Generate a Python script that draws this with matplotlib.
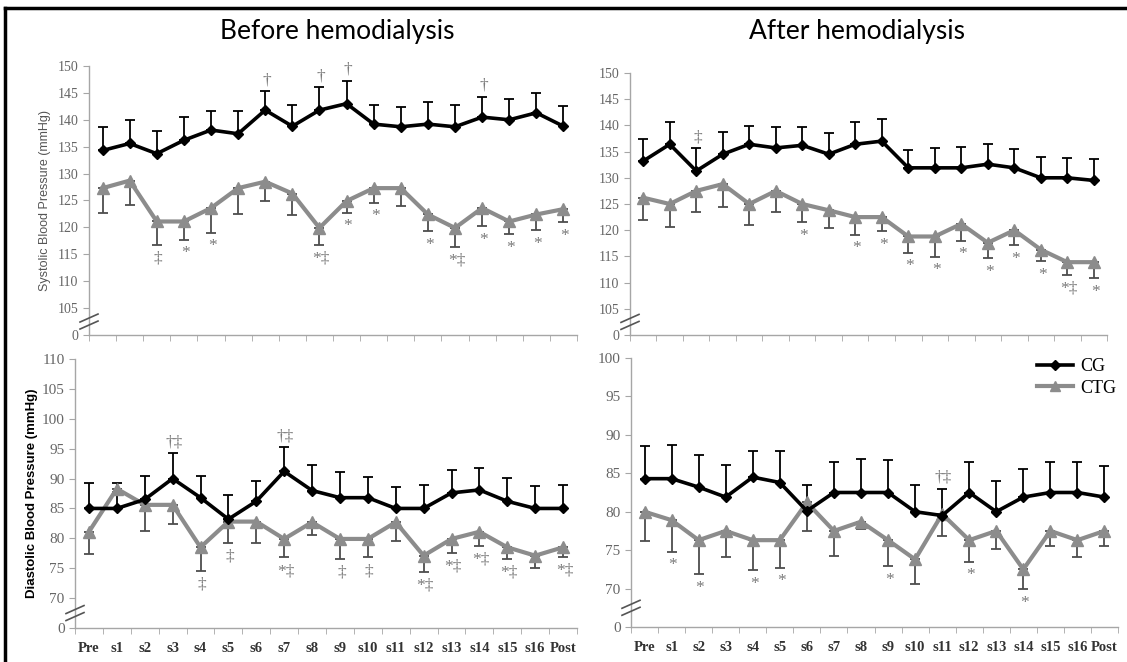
import matplotlib
matplotlib.use('Agg')
import matplotlib.pyplot as plt
from matplotlib.lines import Line2D
import numpy as np

plt.rcParams['font.serif'] = ['Liberation Serif', 'DejaVu Serif']

# --- Data ---
sessions = ['Pre', 's1', 's2', 's3', 's4', 's5', 's6', 's7', 's8', 's9', 's10',
            's11', 's12', 's13', 's14', 's15', 's16', 'Post']

# Systolic, before hemodialysis
sbp_before_cg = [134.3, 135.6, 133.7, 136.2, 138.1, 137.4, 141.8, 138.8, 141.8, 143.0,
                 139.2, 138.7, 139.2, 138.7, 140.5, 140.0, 141.3, 138.8]
sbp_before_cg_sd = [4.3, 4.3, 4.3, 4.3, 3.6, 4.2, 3.5, 3.9, 4.3, 4.3,
                    3.5, 3.7, 4.1, 4.0, 3.8, 3.9, 3.6, 3.8]
sbp_before_ctg = [127.3, 128.7, 121.1, 121.1, 123.6, 127.3, 128.5, 126.3, 119.9, 124.9,
                  127.3, 127.3, 122.4, 119.9, 123.6, 121.1, 122.4, 123.4]
sbp_before_ctg_sd = [4.7, 4.6, 4.3, 3.4, 4.6, 4.9, 3.6, 4.0, 3.2, 2.2,
                     2.7, 3.4, 3.1, 3.5, 3.4, 2.4, 2.9, 2.4]

# Systolic, after hemodialysis
sbp_after_cg = [133.2, 136.4, 131.3, 134.5, 136.4, 135.7, 136.2, 134.5, 136.4, 137.0,
                131.9, 131.9, 131.9, 132.6, 131.9, 130.0, 130.0, 129.5]
sbp_after_cg_sd = [4.2, 4.2, 4.3, 4.2, 3.5, 3.9, 3.4, 4.0, 4.2, 4.2,
                   3.4, 3.7, 4.0, 3.9, 3.6, 4.0, 3.8, 4.1]
sbp_after_ctg = [126.2, 125.0, 127.5, 128.8, 125.0, 127.5, 125.0, 123.8, 122.5, 122.5,
                 118.8, 118.8, 121.2, 117.6, 120.0, 116.3, 113.9, 113.9]
sbp_after_ctg_sd = [4.2, 4.4, 4.1, 4.4, 4.1, 4.1, 3.5, 3.4, 3.4, 2.7,
                    3.1, 3.9, 3.2, 3.0, 2.9, 2.2, 2.4, 3.1]

# Diastolic, before hemodialysis
dbp_before_cg = [85.0, 85.0, 86.5, 90.0, 86.8, 83.2, 86.2, 91.2, 88.0, 86.8,
                 86.8, 85.0, 85.0, 87.6, 88.1, 86.2, 85.0, 85.0]
dbp_before_cg_sd = [4.2, 4.2, 4.0, 4.2, 3.6, 4.0, 3.4, 4.1, 4.3, 4.3,
                    3.4, 3.6, 3.9, 3.8, 3.6, 3.9, 3.7, 4.0]
dbp_before_ctg = [81.1, 88.3, 85.6, 85.6, 78.5, 82.8, 82.8, 79.9, 82.7, 79.9,
                  79.9, 82.7, 77.1, 79.9, 81.1, 78.5, 77.1, 78.5]
dbp_before_ctg_sd = [3.7, 0.6, 4.3, 3.2, 3.9, 3.5, 3.6, 3.1, 2.1, 3.4,
                     3.1, 3.1, 2.8, 2.3, 2.3, 1.9, 2.1, 1.6]

# Diastolic, after hemodialysis
dbp_after_cg = [84.3, 84.3, 83.2, 81.9, 84.5, 83.8, 80.1, 82.5, 82.5, 82.5,
                80.0, 79.5, 82.5, 80.0, 81.9, 82.5, 82.5, 81.9]
dbp_after_cg_sd = [4.3, 4.4, 4.2, 4.2, 3.4, 4.1, 3.4, 4.0, 4.3, 4.2,
                   3.5, 3.5, 4.0, 4.0, 3.6, 4.0, 4.0, 4.1]
dbp_after_ctg = [80.0, 78.9, 76.3, 77.5, 76.3, 76.3, 81.2, 77.5, 78.7, 76.3,
                 73.8, 79.7, 76.3, 77.5, 72.5, 77.5, 76.3, 77.5]
dbp_after_ctg_sd = [3.8, 4.1, 4.4, 3.4, 3.9, 3.6, 3.7, 3.2, 1.0, 3.4,
                    3.2, 2.9, 2.8, 2.3, 2.6, 2.0, 2.2, 2.0]

# significance marks ('' = none); above CG / below CTG
sbp_before_marks_cg = ['', '', '', '', '', '', '†', '', '†', '†', '', '', '', '', '†', '', '', '']
sbp_before_marks_ctg = ['', '', '‡', '*', '*', '', '', '', '*‡', '*', '*', '', '*', '*‡', '*', '*', '*', '*']
sbp_after_marks_cg = ['', '', '‡', '', '', '', '', '', '', '', '', '', '', '', '', '', '', '']
sbp_after_marks_ctg = ['', '', '', '', '', '', '*', '', '*', '*', '*', '*', '*', '*', '*', '*', '*‡', '*']
dbp_before_marks_cg = ['', '', '', '†‡', '', '', '', '†‡', '', '', '', '', '', '', '', '', '', '']
dbp_before_marks_ctg = ['', '', '', '', '‡', '‡', '', '*‡', '', '‡', '‡', '', '*‡', '*‡', '*‡', '*‡', '', '*‡']
dbp_after_marks_cg = ['', '', '', '', '', '', '', '', '', '', '', '†‡', '', '', '', '', '', '']
dbp_after_marks_ctg = ['', '*', '*', '', '*', '*', '', '', '', '*', '', '', '*', '', '*', '', '', '']

# --- Figure ---
W, H = 1127, 662
fig = plt.figure(figsize=(W / 100, H / 100), dpi=100)
fig.patch.set_facecolor('white')

tick_gray = '#666666'
axis_gray = '#a6a6a6'
mark_gray = '#7a7a7a'
ctg_gray = '#8c8c8c'


def rect(l, r, t, b):
    return [l / W, 1 - b / H, (r - l) / W, (b - t) / H]


def draw_panel(ax, cg, cg_sd, ctg, ctg_sd, marks_cg, marks_ctg, yticks, ylo, yhi,
               tick_size, show_x):
    x = np.arange(len(sessions))
    zeros = np.zeros(len(sessions))
    # error bars (CG up, CTG down)
    ax.errorbar(x, cg, yerr=[zeros, cg_sd], fmt='none', ecolor='black',
                elinewidth=1.3, capsize=3.5, capthick=1.3, zorder=2)
    ax.errorbar(x, ctg, yerr=[ctg_sd, zeros], fmt='none', ecolor='#4d4d4d',
                elinewidth=1.3, capsize=3.5, capthick=1.3, zorder=2)
    ax.plot(x, ctg, color=ctg_gray, lw=3, marker='^', ms=8, zorder=3)
    ax.plot(x, cg, color='black', lw=2.6, marker='D', ms=5.5, zorder=4)

    for i in range(len(sessions)):
        if marks_cg[i]:
            ax.annotate(marks_cg[i], (x[i], cg[i] + cg_sd[i]), xytext=(1, 2),
                        textcoords='offset points', ha='center', va='bottom',
                        fontsize=12.5, color=mark_gray, family='serif')
        if marks_ctg[i]:
            ax.annotate(marks_ctg[i], (x[i], ctg[i] - ctg_sd[i]), xytext=(1, -4),
                        textcoords='offset points', ha='center', va='top',
                        fontsize=12.5, color=mark_gray, family='serif')

    ax.set_xlim(-0.5, len(sessions) - 0.5)
    ax.set_ylim(ylo, yhi)
    ax.set_yticks([ylo] + yticks)
    ax.set_yticklabels(['0'] + [str(v) for v in yticks], family='serif')
    ax.set_xticks(x)
    ax.set_xticks(np.arange(-0.5, len(sessions)), minor=True)
    if show_x:
        ax.set_xticklabels(sessions, fontsize=10.5, fontweight='bold',
                           family='serif', color='#333333')
    else:
        ax.set_xticklabels([])
    ax.tick_params(axis='x', which='major', length=0, pad=10)
    ax.tick_params(axis='x', which='minor', length=4, color=axis_gray, direction='out')
    ax.tick_params(axis='y', length=4, color=axis_gray, direction='out',
                   labelsize=tick_size, labelcolor=tick_gray)
    for s in ['top', 'right']:
        ax.spines[s].set_visible(False)
    for s in ['left', 'bottom']:
        ax.spines[s].set_color(axis_gray)
        ax.spines[s].set_linewidth(1.0)

    # axis break marks
    bw = 9 / ax.bbox.width
    ppu = ax.bbox.height / (yhi - ylo)
    ymid = ylo + 2.5
    for dy in (-3.5, 3.5):
        yc = ymid + dy / ppu
        ax.add_line(Line2D([-bw, bw], [yc - 4 / ppu, yc + 4 / ppu],
                           transform=ax.get_yaxis_transform(), color='#555555',
                           lw=1.2, clip_on=False, zorder=5))


ax1 = fig.add_axes(rect(89, 577, 66, 335))
ax2 = fig.add_axes(rect(630, 1107, 73, 335))
ax3 = fig.add_axes(rect(75, 577, 359, 628))
ax4 = fig.add_axes(rect(631, 1118, 358, 627))

sbp_ticks = [105, 110, 115, 120, 125, 130, 135, 140, 145, 150]
draw_panel(ax1, sbp_before_cg, sbp_before_cg_sd, sbp_before_ctg, sbp_before_ctg_sd,
           sbp_before_marks_cg, sbp_before_marks_ctg, sbp_ticks, 100, 150, 10, False)
draw_panel(ax2, sbp_after_cg, sbp_after_cg_sd, sbp_after_ctg, sbp_after_ctg_sd,
           sbp_after_marks_cg, sbp_after_marks_ctg, sbp_ticks, 100, 150, 10, False)
draw_panel(ax3, dbp_before_cg, dbp_before_cg_sd, dbp_before_ctg, dbp_before_ctg_sd,
           dbp_before_marks_cg, dbp_before_marks_ctg,
           [70, 75, 80, 85, 90, 95, 100, 105, 110], 65, 110, 11, True)
draw_panel(ax4, dbp_after_cg, dbp_after_cg_sd, dbp_after_ctg, dbp_after_ctg_sd,
           dbp_after_marks_cg, dbp_after_marks_ctg,
           [70, 75, 80, 85, 90, 95, 100], 65, 100, 11, True)

# --- Labels ---
ax1.set_ylabel('Systolic Blood Pressure (mmHg)', fontsize=9, color='#555555',
               family='Liberation Sans', labelpad=5)
ax3.set_ylabel('Diastolic Blood Pressure (mmHg)', fontsize=9.5, fontweight='bold',
               color='black', family='Liberation Sans', labelpad=3)

fig.text(337 / W, 1 - 31 / H, 'Before hemodialysis', ha='center', va='center',
         fontsize=19, family='Lato')
fig.text(857 / W, 1 - 31 / H, 'After hemodialysis', ha='center', va='center',
         fontsize=19, family='Lato')

# --- Legend ---
handles = [Line2D([], [], color='black', lw=2.6, marker='D', ms=5),
           Line2D([], [], color=ctg_gray, lw=3, marker='^', ms=7)]
ax4.legend(handles, ['CG', 'CTG'], loc='upper right', bbox_to_anchor=(1.03, 1.06),
           frameon=False, prop={'family': 'serif', 'size': 13}, handlelength=2.0,
           handletextpad=0.4, labelspacing=0.25)

# --- Frame ---
fig.add_artist(Line2D([5 / W, 1], [1 - 8 / H, 1 - 8 / H], color='black', lw=2.5,
                      transform=fig.transFigure))
fig.add_artist(Line2D([5 / W, 5 / W], [0, 1 - 8 / H], color='black', lw=2.5,
                      transform=fig.transFigure))

fig.savefig('out.png', dpi=100)
